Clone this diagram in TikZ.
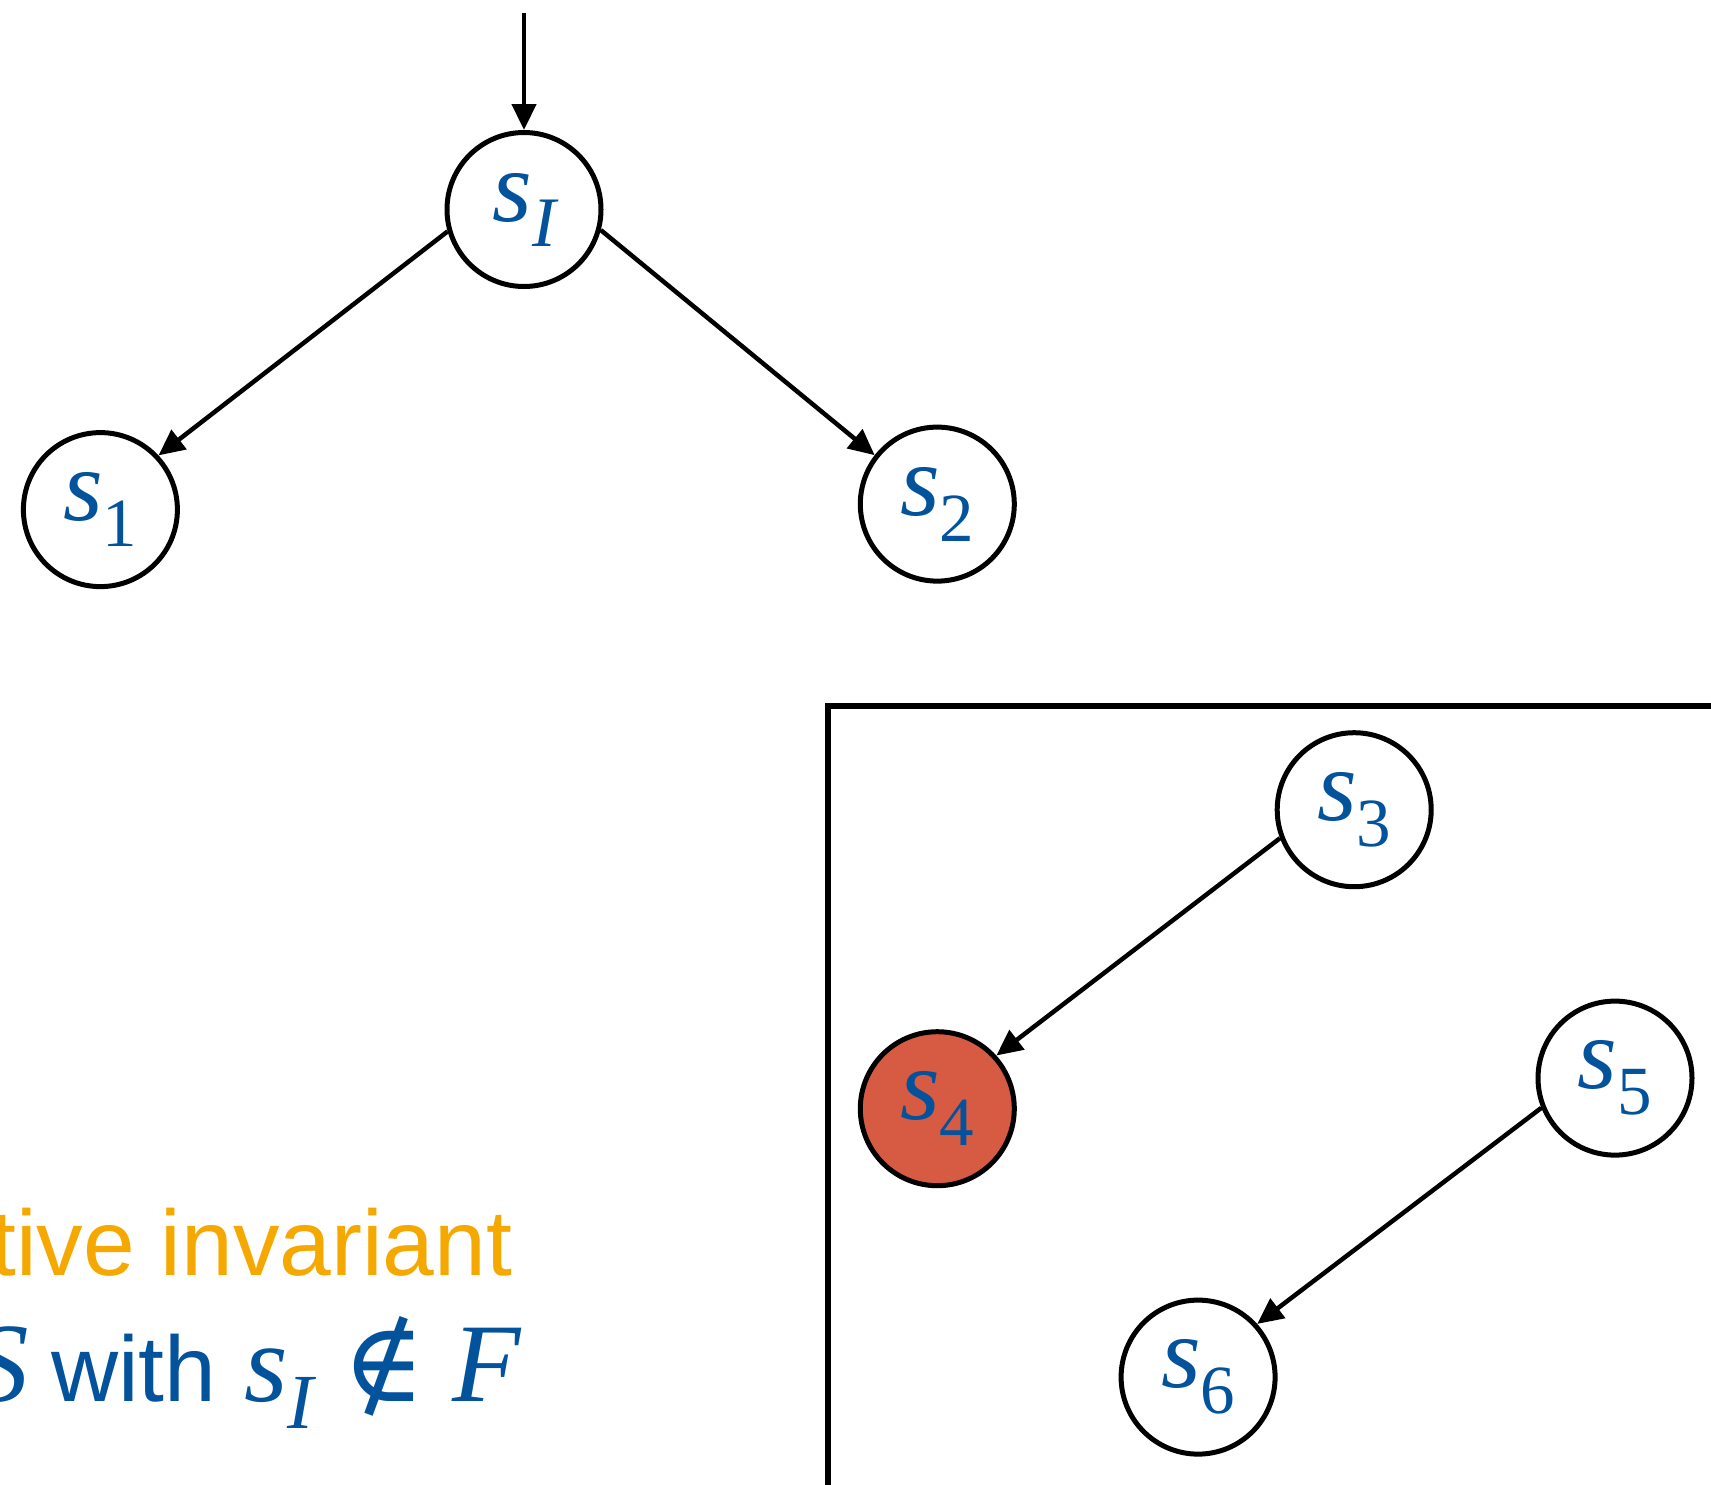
\documentclass[tikz,border=0pt]{standalone}
\usepackage{fontspec}
\setmainfont{Liberation Serif}
\setsansfont{Liberation Sans}
\newfontfamily\symserif{DejaVu Serif}
\usetikzlibrary{arrows.meta}
\definecolor{lblblue}{RGB}{2,82,156}
\definecolor{invorange}{RGB}{245,168,0}
\definecolor{badred}{RGB}{215,91,67}
\tikzset{
  state/.style={circle, draw=black, line width=5pt, fill=white, minimum size=154pt, inner sep=0pt, text=lblblue},
  badstate/.style={state, fill=badred},
  trans/.style={line width=4.5pt, -{Triangle[length=26pt,width=24pt]}},
  caption/.style={inner sep=0pt, text=lblblue},
}
\newcommand{\stlabel}[1]{{\fontsize{102}{102}\selectfont\itshape s}\raisebox{-26pt}{\fontsize{69}{69}\selectfont #1}}
\begin{document}
\begin{tikzpicture}[x=1pt,y=-1pt]
\useasboundingbox (0,0) rectangle (1711,1484);
% box
\draw[line width=6pt] (1730,705.5) -- (827.5,705.5) -- (827.5,1500);
% states
\node[state] (sI) at (524,209.5) {{\fontsize{102}{102}\selectfont\itshape s}\raisebox{-25pt}{\fontsize{71}{71}\selectfont\itshape I}};
\node[state] (s1) at (100.4,509.6) {\stlabel{1}};
\node[state] (s2) at (937.3,504.1) {\stlabel{2}};
\node[state] (s3) at (1354.2,809.7) {\stlabel{3}};
\node[badstate] (s4) at (937.3,1108.7) {\stlabel{4}};
\node[state] (s5) at (1615,1078.1) {\stlabel{5}};
\node[state] (s6) at (1198.1,1377.1) {\stlabel{6}};
\coordinate (init) at (524,13);
% transitions
\draw[trans] (init) -- (sI.north);
\draw[trans] (sI.196) -- (s1.43);
\draw[trans] (sI.345) -- (s2.142.6);
\draw[trans] (s3.201.3) -- (s4.42.8);
\draw[trans] (s5.202) -- (s6.42.3);
% texts
\node[anchor=base east, inner sep=0pt, text=invorange, font=\sffamily\fontsize{93}{100}\selectfont] (inv) at (512.5,1275) {tive invariant};
\node[anchor=base east, caption, font=\fontsize{113}{120}\selectfont\itshape] (bigS) at (29,1401) {S};
\node[anchor=base west, caption, font=\sffamily\fontsize{93}{100}\selectfont] (with) at (51,1401) {with};
\node[anchor=base west, caption] (sIt) at (244,1401) {{\fontsize{112}{120}\selectfont\itshape s}\raisebox{-27pt}{\fontsize{78}{80}\selectfont\itshape I}};
\node[anchor=base west, caption, font=\symserif\fontsize{112}{120}\selectfont] (notin) at (342,1401) {∉};
\node[anchor=base west, caption, font=\fontsize{112}{120}\selectfont\itshape] (F) at (452,1401) {F};
\end{tikzpicture}
\end{document}
